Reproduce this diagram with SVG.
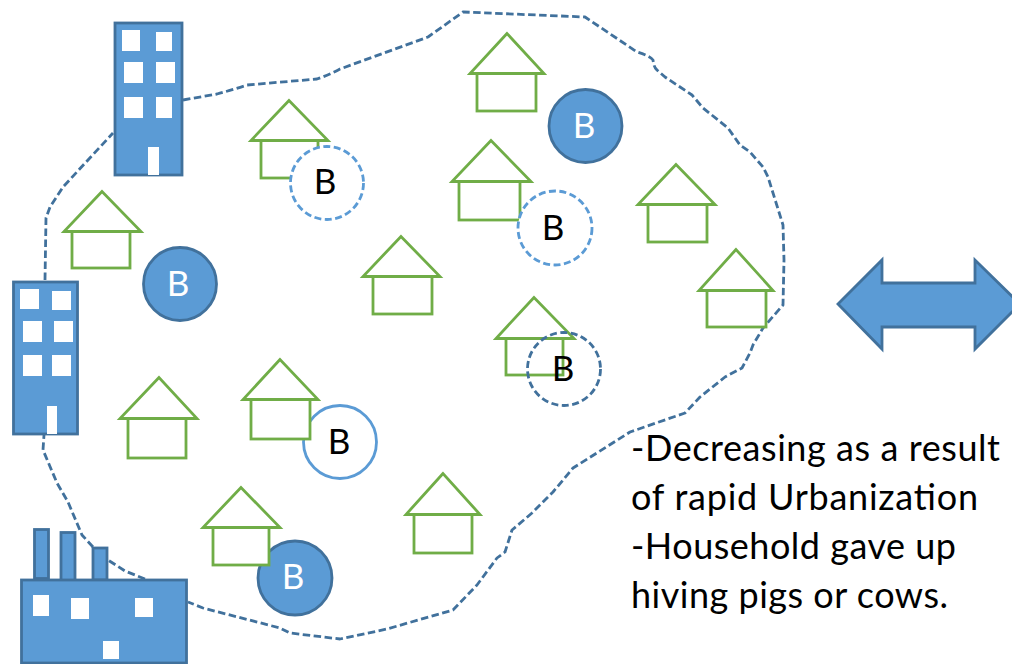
<svg xmlns="http://www.w3.org/2000/svg" width="1012" height="664" viewBox="0 0 1012 664">
<style>
.b{fill:#5b9bd5;stroke:#41719c;stroke-width:2.800}
.w{fill:#fff}
.h{fill:#fff;stroke:#70ad47;stroke-width:2.800}
.bd{fill:none;stroke:#41719c;stroke-width:2.800;stroke-dasharray:7.500 3.500;stroke-linejoin:round}
.t{font-family:Lato,"Open Sans",sans-serif;font-size:36px;fill:#000}
.l{font-family:Lato,"Open Sans",sans-serif;font-size:35px;text-anchor:middle}
.dl{fill:#fff;stroke:#5b9bd5;stroke-width:2.800;stroke-dasharray:7 3.500}
</style>
<rect width="1012" height="664" fill="#fff"/>
<g id="boundary">
<path class="bd" d="M183 100L217 94Q232 90 247 85L317 79Q329 75 340 69L428 37L463 12L585 17L637 52Q650 56 653 60Q654 68 657 70L665 77L692 95L703 108L728 128L740 145L750 152L763 167L768 177L783 225L784 260L783 305L763 328L753 345L750 353L742 368L725 377L700 397L685 413L630 432L573 468L553 492L532 513L512 530L505 552L497 558L477 585L453 610L387 629L340 639L290 633L280 628L203 608L188 602"/>
<path class="bd" d="M145 579L125 571L108 560"/>
<path class="bd" d="M93 547L82 535L68 502L57 483L43 450L44 435"/>
<path class="bd" d="M45 280L46 218L50 207L63 187L113 133"/>
</g>
<g id="circle-filled-3"><circle class="b" cx="295" cy="578" r="37"/><text class="l" x="293" y="589" fill="#fff">B</text></g>
<g id="circle-solid"><circle cx="340" cy="442" r="36.500" fill="#fff" stroke="#5b9bd5" stroke-width="2.800"/><text class="l" x="339" y="454">B</text></g>
<g id="house-1"><rect class="h" x="261" y="140" width="57" height="38"/><path class="h" d="M289 100.500L251 140.500H328Z"/></g>
<g id="house-2"><rect class="h" x="72" y="231" width="58" height="37"/><path class="h" d="M102 191.500L64 231.500H141Z"/></g>
<g id="house-3"><rect class="h" x="128" y="418" width="58" height="40"/><path class="h" d="M159 377.500L120 418.500H197Z"/></g>
<g id="house-4"><rect class="h" x="251" y="399" width="59" height="40"/><path class="h" d="M280 359.500L243 399.500H318Z"/></g>
<g id="house-5"><rect class="h" x="213" y="527" width="56" height="38"/><path class="h" d="M241 487.500L203 527.500H280Z"/></g>
<g id="house-6"><rect class="h" x="414" y="514" width="58" height="39"/><path class="h" d="M443 473.500L406 514.500H480Z"/></g>
<g id="house-7"><rect class="h" x="477" y="73" width="59" height="38"/><path class="h" d="M507 33.500L470 73.500H544Z"/></g>
<g id="house-8"><rect class="h" x="459" y="181" width="61" height="39"/><path class="h" d="M491 140.500L452 181.500H531Z"/></g>
<g id="house-9"><rect class="h" x="373" y="276" width="59" height="38"/><path class="h" d="M401 236.500L363 276.500H440Z"/></g>
<g id="house-10"><rect class="h" x="648" y="204" width="59" height="38"/><path class="h" d="M676 164.500L638 204.500H715Z"/></g>
<g id="house-11"><rect class="h" x="707" y="290" width="59" height="37"/><path class="h" d="M736 249.500L699 290.500H773Z"/></g>
<g id="house-12"><rect class="h" x="506" y="338" width="57" height="37"/><path class="h" d="M534 297.500L496 338.500H574Z"/></g>
<g id="circle-filled-1"><circle class="b" cx="585.500" cy="126" r="36.500"/><text class="l" x="584" y="138" fill="#fff">B</text></g>
<g id="circle-filled-2"><circle class="b" cx="180" cy="284" r="36.500"/><text class="l" x="178" y="296" fill="#fff">B</text></g>
<g id="circle-dashed-1"><circle class="dl" cx="327" cy="183" r="36.500"/><text class="l" x="325" y="194">B</text></g>
<g id="circle-dashed-2"><circle class="dl" cx="555" cy="228" r="37"/><text class="l" x="553" y="240">B</text></g>
<g id="circle-dashed-3"><circle cx="564" cy="369" r="36.500" fill="none" stroke="#41719c" stroke-width="2.800" stroke-dasharray="7 3.500"/><text class="l" x="563" y="381">B</text></g>
<g id="building-1"><rect class="b" x="115" y="23" width="67" height="152"/>
<rect class="w" x="122" y="30" width="18" height="21"/><rect class="w" x="156" y="32" width="16" height="19"/><rect class="w" x="124" y="62" width="19" height="21"/><rect class="w" x="156" y="62" width="19" height="21"/><rect class="w" x="124" y="97" width="19" height="21"/><rect class="w" x="156" y="97" width="16" height="21"/><rect class="w" x="148" y="147" width="11" height="28"/></g>
<g id="building-2"><rect class="b" x="13.500" y="282" width="64" height="152"/>
<rect class="w" x="20" y="289" width="19" height="20"/><rect class="w" x="52" y="291" width="19" height="19"/><rect class="w" x="23" y="321" width="19" height="21"/><rect class="w" x="54" y="321" width="19" height="21"/><rect class="w" x="23" y="355" width="19" height="21"/><rect class="w" x="52" y="355" width="19" height="21"/><rect class="w" x="47" y="406" width="10" height="28"/></g>
<g id="factory"><rect class="b" x="34.500" y="529.500" width="14" height="49"/><rect class="b" x="61" y="532.500" width="14" height="48"/><rect class="b" x="93" y="548" width="14" height="32"/><rect class="b" x="21.500" y="580" width="165" height="83"/>
<rect class="w" x="33" y="595" width="16" height="21"/><rect class="w" x="71" y="598" width="18" height="21"/><rect class="w" x="135" y="598" width="18" height="19"/><rect class="w" x="103" y="641" width="16" height="18"/></g>
<g id="double-arrow"><path class="b" d="M838 304L882 260V283H975V260L1020 304L975 349V327H882V349Z"/></g>
<g id="caption">
<text class="t" x="631" y="461" textLength="369" lengthAdjust="spacing">-Decreasing as a result</text>
<text class="t" x="631" y="510" textLength="347" lengthAdjust="spacing">of rapid Urbanization</text>
<text class="t" x="631" y="559" textLength="325" lengthAdjust="spacing">-Household gave up</text>
<text class="t" x="631" y="608" textLength="317" lengthAdjust="spacing">hiving pigs or cows.</text>
</g>
</svg>
